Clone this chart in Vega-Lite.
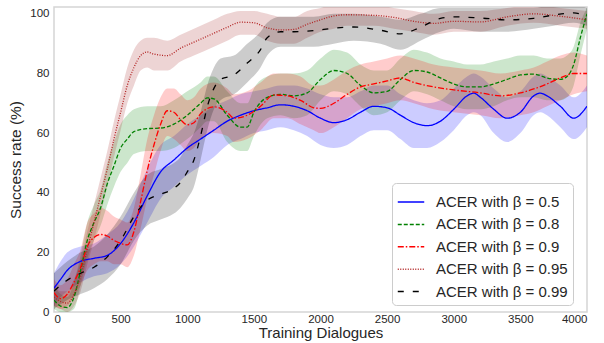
{
 "$schema": "https://vega.github.io/schema/vega-lite/v6.json",
 "width": 533, "height": 305,
 "autosize": {"type": "none"},
 "padding": {"left": 54, "top": 7, "right": 17, "bottom": 31},
 "config": {
  "view": {"stroke": "#d5d5d5", "strokeWidth": 1.5},
  "font": "Liberation Sans",
  "axis": {"grid": false, "ticks": false, "domain": false, "labelFontSize": 11.5, "labelColor": "#262626", "titleFontSize": 15.5, "titleFontWeight": "normal", "titleColor": "#262626"}
 },
 "data": {"values": [
  {"s":"0.5","x":0,"y":8,"lo":2,"hi":13},
  {"s":"0.5","x":50,"y":11,"lo":5,"hi":17},
  {"s":"0.5","x":100,"y":14,"lo":7,"hi":20},
  {"s":"0.5","x":200,"y":17,"lo":10,"hi":22},
  {"s":"0.5","x":300,"y":18,"lo":12,"hi":23},
  {"s":"0.5","x":400,"y":19,"lo":13,"hi":26},
  {"s":"0.5","x":500,"y":23,"lo":16,"hi":30},
  {"s":"0.5","x":600,"y":30,"lo":22,"hi":38},
  {"s":"0.5","x":700,"y":39,"lo":30,"hi":48},
  {"s":"0.5","x":800,"y":47,"lo":38,"hi":56},
  {"s":"0.5","x":900,"y":51,"lo":42,"hi":59},
  {"s":"0.5","x":1000,"y":55,"lo":46,"hi":63},
  {"s":"0.5","x":1100,"y":58,"lo":49,"hi":66},
  {"s":"0.5","x":1200,"y":61,"lo":52,"hi":69},
  {"s":"0.5","x":1300,"y":64,"lo":56,"hi":71},
  {"s":"0.5","x":1400,"y":66,"lo":58,"hi":73},
  {"s":"0.5","x":1500,"y":67.5,"lo":60,"hi":74},
  {"s":"0.5","x":1600,"y":68.5,"lo":61,"hi":75},
  {"s":"0.5","x":1700,"y":69.5,"lo":62,"hi":76},
  {"s":"0.5","x":1800,"y":69,"lo":61,"hi":76},
  {"s":"0.5","x":1900,"y":67.5,"lo":59,"hi":75},
  {"s":"0.5","x":2000,"y":65,"lo":56,"hi":73},
  {"s":"0.5","x":2100,"y":63.5,"lo":55,"hi":72},
  {"s":"0.5","x":2200,"y":64.5,"lo":56,"hi":72},
  {"s":"0.5","x":2300,"y":67,"lo":59,"hi":74},
  {"s":"0.5","x":2400,"y":69,"lo":61,"hi":76},
  {"s":"0.5","x":2500,"y":68.5,"lo":61,"hi":76},
  {"s":"0.5","x":2600,"y":66,"lo":58,"hi":73},
  {"s":"0.5","x":2700,"y":63.5,"lo":55,"hi":71},
  {"s":"0.5","x":2800,"y":62.5,"lo":55,"hi":70},
  {"s":"0.5","x":2900,"y":64,"lo":57,"hi":71},
  {"s":"0.5","x":3000,"y":68,"lo":61,"hi":75},
  {"s":"0.5","x":3100,"y":72.5,"lo":66,"hi":79},
  {"s":"0.5","x":3150,"y":73.4,"lo":67,"hi":80},
  {"s":"0.5","x":3200,"y":72,"lo":66,"hi":79},
  {"s":"0.5","x":3300,"y":68,"lo":60,"hi":75},
  {"s":"0.5","x":3400,"y":65,"lo":57,"hi":72},
  {"s":"0.5","x":3500,"y":67,"lo":60,"hi":74},
  {"s":"0.5","x":3600,"y":72.5,"lo":66,"hi":79},
  {"s":"0.5","x":3650,"y":73.4,"lo":67,"hi":80},
  {"s":"0.5","x":3700,"y":72.5,"lo":66,"hi":79},
  {"s":"0.5","x":3800,"y":69,"lo":62,"hi":76},
  {"s":"0.5","x":3900,"y":65,"lo":58,"hi":72},
  {"s":"0.5","x":4000,"y":69,"lo":62,"hi":76},

  {"s":"0.8","x":0,"y":4,"lo":1,"hi":9},
  {"s":"0.8","x":50,"y":2,"lo":0,"hi":6},
  {"s":"0.8","x":100,"y":1.5,"lo":0,"hi":5},
  {"s":"0.8","x":150,"y":5,"lo":1,"hi":10},
  {"s":"0.8","x":200,"y":14,"lo":9,"hi":19},
  {"s":"0.8","x":250,"y":24,"lo":18,"hi":30},
  {"s":"0.8","x":300,"y":30,"lo":24,"hi":36},
  {"s":"0.8","x":350,"y":35,"lo":29,"hi":41},
  {"s":"0.8","x":400,"y":43,"lo":36,"hi":50},
  {"s":"0.8","x":450,"y":49,"lo":42,"hi":57},
  {"s":"0.8","x":500,"y":55,"lo":47,"hi":63},
  {"s":"0.8","x":550,"y":58,"lo":50,"hi":66},
  {"s":"0.8","x":600,"y":60.5,"lo":53,"hi":68},
  {"s":"0.8","x":700,"y":61.5,"lo":54,"hi":69},
  {"s":"0.8","x":800,"y":61.7,"lo":54,"hi":69},
  {"s":"0.8","x":900,"y":63,"lo":55,"hi":71},
  {"s":"0.8","x":1000,"y":66,"lo":58,"hi":74},
  {"s":"0.8","x":1100,"y":70,"lo":62,"hi":77},
  {"s":"0.8","x":1150,"y":71.8,"lo":64,"hi":79},
  {"s":"0.8","x":1200,"y":71.5,"lo":64,"hi":79},
  {"s":"0.8","x":1300,"y":66,"lo":57,"hi":74},
  {"s":"0.8","x":1400,"y":62,"lo":54,"hi":70},
  {"s":"0.8","x":1450,"y":62,"lo":54,"hi":70},
  {"s":"0.8","x":1500,"y":67,"lo":59,"hi":75},
  {"s":"0.8","x":1600,"y":72,"lo":65,"hi":79},
  {"s":"0.8","x":1700,"y":73,"lo":66,"hi":80},
  {"s":"0.8","x":1800,"y":72.5,"lo":65,"hi":80},
  {"s":"0.8","x":1900,"y":73.5,"lo":66,"hi":81},
  {"s":"0.8","x":2000,"y":78,"lo":71,"hi":85},
  {"s":"0.8","x":2100,"y":81,"lo":74,"hi":88},
  {"s":"0.8","x":2200,"y":80,"lo":73,"hi":87},
  {"s":"0.8","x":2300,"y":76,"lo":69,"hi":83},
  {"s":"0.8","x":2400,"y":73.5,"lo":66,"hi":81},
  {"s":"0.8","x":2500,"y":74,"lo":67,"hi":81},
  {"s":"0.8","x":2600,"y":78,"lo":71,"hi":85},
  {"s":"0.8","x":2700,"y":81,"lo":74,"hi":88},
  {"s":"0.8","x":2800,"y":80.5,"lo":73,"hi":87},
  {"s":"0.8","x":2900,"y":78.5,"lo":71,"hi":85},
  {"s":"0.8","x":3000,"y":76.5,"lo":69,"hi":84},
  {"s":"0.8","x":3100,"y":75.5,"lo":68,"hi":83},
  {"s":"0.8","x":3200,"y":75.5,"lo":68,"hi":83},
  {"s":"0.8","x":3300,"y":76.5,"lo":69,"hi":84},
  {"s":"0.8","x":3400,"y":78,"lo":71,"hi":85},
  {"s":"0.8","x":3500,"y":79.5,"lo":72,"hi":86},
  {"s":"0.8","x":3600,"y":79.8,"lo":72,"hi":86},
  {"s":"0.8","x":3700,"y":78.5,"lo":71,"hi":85},
  {"s":"0.8","x":3800,"y":78,"lo":71,"hi":85},
  {"s":"0.8","x":3850,"y":79,"lo":72,"hi":86},
  {"s":"0.8","x":3900,"y":83,"lo":76,"hi":89},
  {"s":"0.8","x":3950,"y":92,"lo":86,"hi":97},
  {"s":"0.8","x":4000,"y":100,"lo":95,"hi":102},

  {"s":"0.9","x":0,"y":6.5,"lo":2,"hi":11},
  {"s":"0.9","x":50,"y":4.5,"lo":1,"hi":9},
  {"s":"0.9","x":100,"y":6,"lo":2,"hi":11},
  {"s":"0.9","x":150,"y":10,"lo":5,"hi":16},
  {"s":"0.9","x":200,"y":15,"lo":9,"hi":21},
  {"s":"0.9","x":250,"y":22,"lo":14,"hi":30},
  {"s":"0.9","x":300,"y":25,"lo":16,"hi":33},
  {"s":"0.9","x":350,"y":26,"lo":17,"hi":35},
  {"s":"0.9","x":400,"y":25.5,"lo":17,"hi":34},
  {"s":"0.9","x":450,"y":24,"lo":16,"hi":32},
  {"s":"0.9","x":500,"y":23,"lo":16,"hi":31},
  {"s":"0.9","x":550,"y":22.5,"lo":15,"hi":30},
  {"s":"0.9","x":600,"y":27,"lo":19,"hi":35},
  {"s":"0.9","x":650,"y":37,"lo":28,"hi":46},
  {"s":"0.9","x":700,"y":47.5,"lo":38,"hi":58},
  {"s":"0.9","x":750,"y":56,"lo":46,"hi":66},
  {"s":"0.9","x":800,"y":63,"lo":54,"hi":72},
  {"s":"0.9","x":850,"y":67.5,"lo":59,"hi":75},
  {"s":"0.9","x":900,"y":67,"lo":58,"hi":75},
  {"s":"0.9","x":950,"y":64.5,"lo":56,"hi":73},
  {"s":"0.9","x":1000,"y":62.8,"lo":54,"hi":71},
  {"s":"0.9","x":1050,"y":63.5,"lo":55,"hi":72},
  {"s":"0.9","x":1100,"y":66.5,"lo":58,"hi":75},
  {"s":"0.9","x":1200,"y":68.8,"lo":60,"hi":77},
  {"s":"0.9","x":1300,"y":67,"lo":59,"hi":75},
  {"s":"0.9","x":1350,"y":65,"lo":57,"hi":73},
  {"s":"0.9","x":1450,"y":66,"lo":58,"hi":74},
  {"s":"0.9","x":1550,"y":69,"lo":61,"hi":77},
  {"s":"0.9","x":1650,"y":72.8,"lo":65,"hi":80},
  {"s":"0.9","x":1750,"y":72.5,"lo":65,"hi":80},
  {"s":"0.9","x":1850,"y":71,"lo":63,"hi":79},
  {"s":"0.9","x":1950,"y":68.5,"lo":61,"hi":76},
  {"s":"0.9","x":2000,"y":68.3,"lo":60,"hi":76},
  {"s":"0.9","x":2100,"y":70,"lo":62,"hi":78},
  {"s":"0.9","x":2200,"y":73,"lo":65,"hi":81},
  {"s":"0.9","x":2300,"y":75.5,"lo":68,"hi":83},
  {"s":"0.9","x":2400,"y":76.5,"lo":69,"hi":84},
  {"s":"0.9","x":2500,"y":77.5,"lo":70,"hi":85},
  {"s":"0.9","x":2600,"y":78.5,"lo":71,"hi":86},
  {"s":"0.9","x":2700,"y":77,"lo":70,"hi":85},
  {"s":"0.9","x":2850,"y":75.5,"lo":68,"hi":83},
  {"s":"0.9","x":3000,"y":74.5,"lo":67,"hi":82},
  {"s":"0.9","x":3200,"y":73.5,"lo":66,"hi":81},
  {"s":"0.9","x":3350,"y":72.5,"lo":65,"hi":80},
  {"s":"0.9","x":3500,"y":73.5,"lo":66,"hi":81},
  {"s":"0.9","x":3600,"y":74.8,"lo":67,"hi":82},
  {"s":"0.9","x":3700,"y":76.5,"lo":69,"hi":84},
  {"s":"0.9","x":3800,"y":78.5,"lo":71,"hi":86},
  {"s":"0.9","x":3900,"y":80,"lo":73,"hi":87},
  {"s":"0.9","x":4000,"y":80,"lo":74,"hi":86},

  {"s":"0.95","x":0,"y":5,"lo":2,"hi":9},
  {"s":"0.95","x":50,"y":3.5,"lo":1,"hi":7},
  {"s":"0.95","x":100,"y":3,"lo":0,"hi":7},
  {"s":"0.95","x":150,"y":6,"lo":2,"hi":11},
  {"s":"0.95","x":200,"y":12,"lo":7,"hi":17},
  {"s":"0.95","x":250,"y":21,"lo":16,"hi":27},
  {"s":"0.95","x":300,"y":30,"lo":24,"hi":36},
  {"s":"0.95","x":350,"y":39,"lo":33,"hi":45},
  {"s":"0.95","x":400,"y":48,"lo":42,"hi":54},
  {"s":"0.95","x":450,"y":58,"lo":52,"hi":64},
  {"s":"0.95","x":500,"y":67,"lo":61,"hi":73},
  {"s":"0.95","x":550,"y":76,"lo":70,"hi":82},
  {"s":"0.95","x":600,"y":82,"lo":76,"hi":88},
  {"s":"0.95","x":650,"y":86,"lo":81,"hi":91},
  {"s":"0.95","x":700,"y":87.2,"lo":82,"hi":92},
  {"s":"0.95","x":750,"y":86.5,"lo":81,"hi":92},
  {"s":"0.95","x":850,"y":86,"lo":81,"hi":91},
  {"s":"0.95","x":950,"y":88.5,"lo":84,"hi":93},
  {"s":"0.95","x":1050,"y":90.5,"lo":86,"hi":95},
  {"s":"0.95","x":1200,"y":93.5,"lo":89,"hi":98},
  {"s":"0.95","x":1300,"y":95.5,"lo":91,"hi":100},
  {"s":"0.95","x":1400,"y":97.2,"lo":93,"hi":101},
  {"s":"0.95","x":1500,"y":97,"lo":93,"hi":101},
  {"s":"0.95","x":1600,"y":95.3,"lo":91,"hi":100},
  {"s":"0.95","x":1700,"y":94.6,"lo":90,"hi":99},
  {"s":"0.95","x":1800,"y":94.8,"lo":90,"hi":99},
  {"s":"0.95","x":1900,"y":96.5,"lo":92,"hi":101},
  {"s":"0.95","x":2000,"y":98,"lo":94,"hi":102},
  {"s":"0.95","x":2100,"y":99.3,"lo":95,"hi":103},
  {"s":"0.95","x":2200,"y":99.7,"lo":96,"hi":103},
  {"s":"0.95","x":2400,"y":99.5,"lo":96,"hi":103},
  {"s":"0.95","x":2550,"y":98.8,"lo":95,"hi":102},
  {"s":"0.95","x":2700,"y":97.5,"lo":94,"hi":101},
  {"s":"0.95","x":2850,"y":96.8,"lo":93,"hi":100},
  {"s":"0.95","x":3000,"y":97.5,"lo":94,"hi":101},
  {"s":"0.95","x":3200,"y":97.3,"lo":94,"hi":101},
  {"s":"0.95","x":3400,"y":99,"lo":96,"hi":102},
  {"s":"0.95","x":3600,"y":100,"lo":97,"hi":103},
  {"s":"0.95","x":3800,"y":99.2,"lo":96,"hi":102},
  {"s":"0.95","x":4000,"y":98,"lo":95,"hi":101},

  {"s":"0.99","x":0,"y":7,"lo":1,"hi":13},
  {"s":"0.99","x":100,"y":10.7,"lo":4,"hi":17},
  {"s":"0.99","x":200,"y":13,"lo":6,"hi":20},
  {"s":"0.99","x":300,"y":15,"lo":8,"hi":22},
  {"s":"0.99","x":400,"y":18.5,"lo":11,"hi":26},
  {"s":"0.99","x":500,"y":24,"lo":16,"hi":32},
  {"s":"0.99","x":600,"y":32,"lo":24,"hi":40},
  {"s":"0.99","x":700,"y":37.5,"lo":29,"hi":46},
  {"s":"0.99","x":800,"y":39.5,"lo":31,"hi":48},
  {"s":"0.99","x":900,"y":41.5,"lo":33,"hi":50},
  {"s":"0.99","x":950,"y":43.5,"lo":35,"hi":52},
  {"s":"0.99","x":1000,"y":47,"lo":38,"hi":56},
  {"s":"0.99","x":1050,"y":51,"lo":42,"hi":60},
  {"s":"0.99","x":1100,"y":59,"lo":51,"hi":67},
  {"s":"0.99","x":1150,"y":68.8,"lo":61,"hi":76},
  {"s":"0.99","x":1200,"y":75,"lo":68,"hi":82},
  {"s":"0.99","x":1250,"y":78,"lo":71,"hi":85},
  {"s":"0.99","x":1350,"y":79.5,"lo":73,"hi":86},
  {"s":"0.99","x":1450,"y":83.5,"lo":77,"hi":90},
  {"s":"0.99","x":1550,"y":88,"lo":82,"hi":94},
  {"s":"0.99","x":1600,"y":92,"lo":86,"hi":97},
  {"s":"0.99","x":1700,"y":94,"lo":89,"hi":99},
  {"s":"0.99","x":1800,"y":94,"lo":89,"hi":99},
  {"s":"0.99","x":1950,"y":94.4,"lo":89,"hi":99},
  {"s":"0.99","x":2100,"y":95.2,"lo":90,"hi":100},
  {"s":"0.99","x":2250,"y":95.6,"lo":91,"hi":100},
  {"s":"0.99","x":2450,"y":94.5,"lo":90,"hi":99},
  {"s":"0.99","x":2600,"y":93.3,"lo":88,"hi":98},
  {"s":"0.99","x":2750,"y":95.5,"lo":91,"hi":100},
  {"s":"0.99","x":2900,"y":98.5,"lo":94,"hi":102},
  {"s":"0.99","x":3000,"y":99,"lo":95,"hi":102},
  {"s":"0.99","x":3200,"y":98.6,"lo":94,"hi":102},
  {"s":"0.99","x":3400,"y":98,"lo":94,"hi":102},
  {"s":"0.99","x":3600,"y":98.5,"lo":95,"hi":102},
  {"s":"0.99","x":3750,"y":99.6,"lo":96,"hi":103},
  {"s":"0.99","x":3900,"y":100.3,"lo":97,"hi":103},
  {"s":"0.99","x":4000,"y":99,"lo":96,"hi":102}
 ]},
 "layer": [
  {
   "mark": {"type": "area", "opacity": 0.2, "interpolate": "monotone", "clip": true},
   "encoding": {
    "x": {"field": "x", "type": "quantitative", "scale": {"domain": [0, 4000], "nice": false},
          "axis": {"values": [0,500,1000,1500,2000,2500,3000,3500,4000], "format": "d", "labelPadding": 1, "title": "Training Dialogues", "titlePadding": 1, "titleFontSize": 15}},
    "y": {"field": "lo", "type": "quantitative", "scale": {"domain": [0, 102.3], "nice": false},
          "axis": {"values": [0,20,40,60,80,100], "labelPadding": 5, "title": "Success rate (%)", "titlePadding": 6}},
    "y2": {"field": "hi"},
    "fill": {"field": "s", "type": "nominal",
             "scale": {"domain": ["0.99","0.95","0.9","0.8","0.5"], "range": ["#000000","#a52a2a","#ff0000","#008000","#0000ff"]},
             "legend": null}
   }
  },
  {
   "mark": {"type": "line", "interpolate": "monotone", "strokeWidth": 1.3, "clip": true},
   "encoding": {
    "x": {"field": "x", "type": "quantitative"},
    "y": {"field": "y", "type": "quantitative"},
    "stroke": {"field": "s", "type": "nominal",
               "scale": {"domain": ["0.5","0.8","0.9","0.95","0.99"], "range": ["#0000ff","#008000","#ff0000","#b22222","#000000"]},
               "legend": {"title": null, "labelExpr": "'ACER with β = ' + datum.label", "orient": "none", "legendX": 338, "legendY": 176, "padding": 5, "fillColor": "white", "strokeColor": "#cccccc", "cornerRadius": 4, "labelFontSize": 15, "labelColor": "#262626", "symbolType": "stroke", "symbolSize": 700, "symbolStrokeWidth": 1.5, "rowPadding": 0.4, "labelOffset": 11}},
    "strokeDash": {"field": "s", "type": "nominal",
                   "scale": {"domain": ["0.5","0.8","0.9","0.95","0.99"], "range": [[1,0],[4,2],[6,2,1.5,2],[1,1.5],[6,9]]},
                   "legend": {"title": null, "labelExpr": "'ACER with β = ' + datum.label", "orient": "none", "legendX": 338, "legendY": 176, "padding": 5, "fillColor": "white", "strokeColor": "#cccccc", "cornerRadius": 4, "labelFontSize": 15, "labelColor": "#262626", "symbolType": "stroke", "symbolSize": 700, "symbolStrokeWidth": 1.5, "rowPadding": 0.4, "labelOffset": 11}}
   }
  }
 ]
}
